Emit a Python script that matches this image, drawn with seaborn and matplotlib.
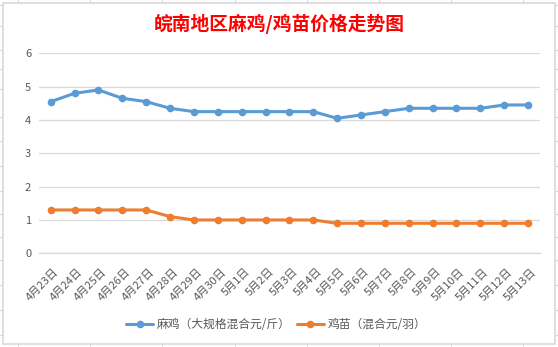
import matplotlib
matplotlib.use("Agg")
import matplotlib.pyplot as plt
import matplotlib.transforms as mtransforms
import seaborn as sns
import pandas as pd
from matplotlib.lines import Line2D
from matplotlib.patches import Rectangle

# ---- data ----
dates = ["4月23日", "4月24日", "4月25日", "4月26日", "4月27日", "4月28日", "4月29日",
         "4月30日", "5月1日", "5月2日", "5月3日", "5月4日", "5月5日", "5月6日",
         "5月7日", "5月8日", "5月9日", "5月10日", "5月11日", "5月12日", "5月13日"]
majian = [4.55, 4.8, 4.9, 4.65, 4.55, 4.35, 4.25, 4.25, 4.25, 4.25, 4.25, 4.25,
          4.05, 4.15, 4.25, 4.35, 4.35, 4.35, 4.35, 4.45, 4.45]
jimiao = [1.3, 1.3, 1.3, 1.3, 1.3, 1.1, 1.0, 1.0, 1.0, 1.0, 1.0, 1.0,
          0.9, 0.9, 0.9, 0.9, 0.9, 0.9, 0.9, 0.9, 0.9]
series_names = ["麻鸡（大规格混合元/斤）", "鸡苗（混合元/羽）"]
title = "皖南地区麻鸡/鸡苗价格走势图"
yticks = [0, 1, 2, 3, 4, 5, 6]

sns.set_theme(style="white")
plt.rcParams["font.family"] = ["Noto Sans CJK SC", "DejaVu Sans"]

df = pd.DataFrame({
    "pos": list(range(len(dates))) * 2,
    "value": majian + jimiao,
    "series": [series_names[0]] * len(dates) + [series_names[1]] * len(dates),
})

W, H = 558, 347
fig = plt.figure(figsize=(W / 100, H / 100), dpi=100)
ax = fig.add_axes([38.8 / W, 1 - 253.3 / H, (540 - 38.8) / W, (253.3 - 53.3) / H])

palette = {series_names[0]: "#5B9BD5", series_names[1]: "#ED7D31"}
sns.lineplot(data=df, x="pos", y="value", hue="series", palette=palette,
             marker="o", markersize=5.5, markeredgewidth=0, linewidth=2.2,
             ax=ax, legend=False, sort=False)

grid_c = "#D9D9D9"
text_c = "#595959"
ax.set_xlim(-0.5, len(dates) - 0.5)
ax.set_ylim(0, 6)
ax.set_yticks(yticks)
ax.set_yticklabels([str(v) for v in yticks], color=text_c, fontsize=8)
ax.yaxis.grid(True, color=grid_c, linewidth=0.9)
ax.set_axisbelow(True)
ax.tick_params(axis="y", length=0, pad=5.5)
for s in ["left", "right", "top"]:
    ax.spines[s].set_visible(False)
ax.spines["bottom"].set_color(grid_c)
ax.spines["bottom"].set_linewidth(0.9)

ax.set_xticks(range(len(dates)))
ax.set_xticklabels(dates, rotation=45, ha="right", va="top",
                   rotation_mode="anchor", color=text_c, fontsize=8)
ax.tick_params(axis="x", which="major", length=0, pad=9.5)
ax.set_xticks([i - 0.5 for i in range(len(dates) + 1)], minor=True)
ax.tick_params(axis="x", which="minor", length=4, color=grid_c, width=0.9, direction="out")
ax.set_xlabel("")
ax.set_ylabel("")
shift = mtransforms.ScaledTranslation(0.03, 0, fig.dpi_scale_trans)
for lab in ax.get_xticklabels():
    lab.set_transform(lab.get_transform() + shift)

fig.text(279.5 / W, 1 - 24 / H, title, color="#FF0000", fontsize=13.5,
         fontweight="bold", ha="center", va="center")

handles = [Line2D([], [], color=palette[n], linewidth=2.2, marker="o", markersize=5.5,
                  markeredgewidth=0) for n in series_names]
fig.legend(handles, series_names, loc="center", bbox_to_anchor=(276 / W, 1 - 325 / H),
           ncol=2, frameon=False, fontsize=8.5, handlelength=2.3, handletextpad=0.3,
           columnspacing=0.5, labelcolor=text_c)

# chart area border
fig.patches.append(Rectangle((2.5 / W, 1 - 344 / H), (555 - 2.5) / W, (344 - 2.5) / H,
                             transform=fig.transFigure, fill=False,
                             edgecolor=grid_c, linewidth=1.2))
# spreadsheet cell-grid stubs outside the chart area
for gx in [18, 90, 162, 235, 307, 379, 451, 523]:
    fig.add_artist(Line2D([gx / W, gx / W], [1, 1 - 2.5 / H], transform=fig.transFigure,
                          color=grid_c, linewidth=0.8))
    fig.add_artist(Line2D([gx / W, gx / W], [0, 3 / H], transform=fig.transFigure,
                          color=grid_c, linewidth=0.8))
for gy in [5, 26, 50, 69, 89, 117, 141, 166, 191, 214, 237, 260, 285, 310, 335]:
    fig.add_artist(Line2D([0, 2.5 / W], [1 - gy / H, 1 - gy / H], transform=fig.transFigure,
                          color=grid_c, linewidth=0.8))
    fig.add_artist(Line2D([555 / W, 1], [1 - gy / H, 1 - gy / H], transform=fig.transFigure,
                          color=grid_c, linewidth=0.8))

fig.savefig("out.png", dpi=100)
